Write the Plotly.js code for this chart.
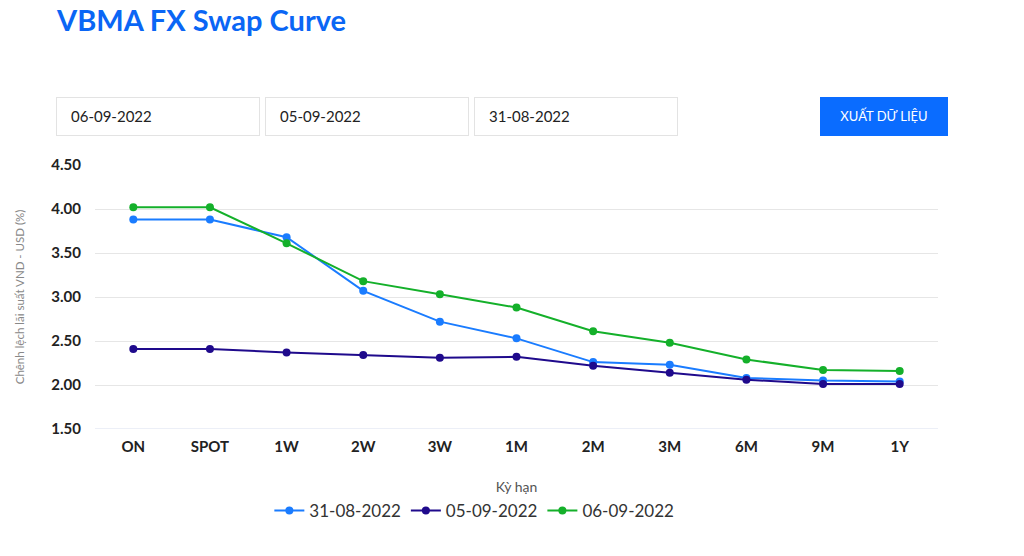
<!DOCTYPE html>
<html><head><meta charset="utf-8">
<script src="https://cdn.plot.ly/plotly-3.0.1.min.js"></script>
<style>
html,body{margin:0;padding:0;background:#fff;width:1024px;height:556px;overflow:hidden;font-family:Lato,"Open Sans",sans-serif;}
#chart{position:absolute;left:0;top:0;width:1024px;height:556px;}
.h1{position:absolute;left:57px;top:2px;font-size:29px;font-weight:bold;color:#0a66f5;font-family:Lato,sans-serif;}
.box{position:absolute;top:97px;height:39px;width:204px;border:1px solid #e3e3e3;box-sizing:border-box;font-size:15px;color:#222;line-height:37px;padding-left:14px;}
.btn{position:absolute;left:820px;top:97px;width:128px;height:39px;background:#0a6cff;color:#fff;font-size:13px;line-height:39px;text-align:center;}
</style></head>
<body>
<div id="chart"></div>
<div class="h1">VBMA FX Swap Curve</div>
<div class="box" style="left:56px">06-09-2022</div>
<div class="box" style="left:265px">05-09-2022</div>
<div class="box" style="left:474px">31-08-2022</div>
<div class="btn">XUẤT DỮ LIỆU</div>
<script>
const tenors = ["ON","SPOT","1W","2W","3W","1M","2M","3M","6M","9M","1Y"];
const s3108 = [3.88,3.88,3.68,3.07,2.72,2.53,2.26,2.23,2.08,2.05,2.04];
const s0509 = [2.41,2.41,2.37,2.34,2.31,2.32,2.22,2.14,2.06,2.01,2.01];
const s0609 = [4.02,4.02,3.61,3.18,3.03,2.88,2.61,2.48,2.29,2.17,2.16];
const names = ["31-08-2022","05-09-2022","06-09-2022"];
const colors = ["#1a7cff","#1f0a8c","#14b02a"];
const series = [s3108,s0509,s0609];
const traces = series.map((v,i)=>({
  x: tenors, y: v, name: names[i], type:'scatter', mode:'lines+markers',
  line:{color:colors[i],width:2}, marker:{color:colors[i],size:8},
  hoverinfo:'skip'
}));
const layout = {
  width:1024, height:556,
  margin:{l:95,r:86,t:165,b:127},
  paper_bgcolor:'#fff', plot_bgcolor:'#fff',
  font:{family:'Lato, sans-serif', color:'#222'},
  showlegend:true,
  legend:{orientation:'h', x:0.45, xanchor:'center', xref:'paper', y:-0.31, yanchor:'middle', font:{size:17,color:'#333'}, itemwidth:30},
  xaxis:{type:'category', range:[-0.5,10.5], showgrid:false, zeroline:false, showline:false,
    tickfont:{size:15,color:'#222',weight:'bold'}, ticks:'', ticklabelstandoff:7,
    title:{text:'Kỳ hạn', font:{size:14,color:'#555'}, standoff:28}},
  yaxis:{range:[1.5,4.5], tick0:1.5, dtick:0.5, tickformat:'.2f', showgrid:true, gridcolor:'#e6e6e6', gridwidth:1,
    zeroline:false, showline:false, ticks:'', tickfont:{size:15,color:'#222',weight:'bold'}, ticklabelstandoff:13,
    title:{text:'Chênh lệch lãi suất VND - USD (%)', font:{size:11.5,color:'#888'}, standoff:24}},
  shapes:[{type:'line', xref:'paper', yref:'y', x0:0, x1:1, y0:1.5, y1:1.5, line:{color:'#d9dfee', width:1}, layer:'below'}]
};
Plotly.newPlot('chart', traces, layout, {displayModeBar:false, staticPlot:true});
</script>
</body></html>
